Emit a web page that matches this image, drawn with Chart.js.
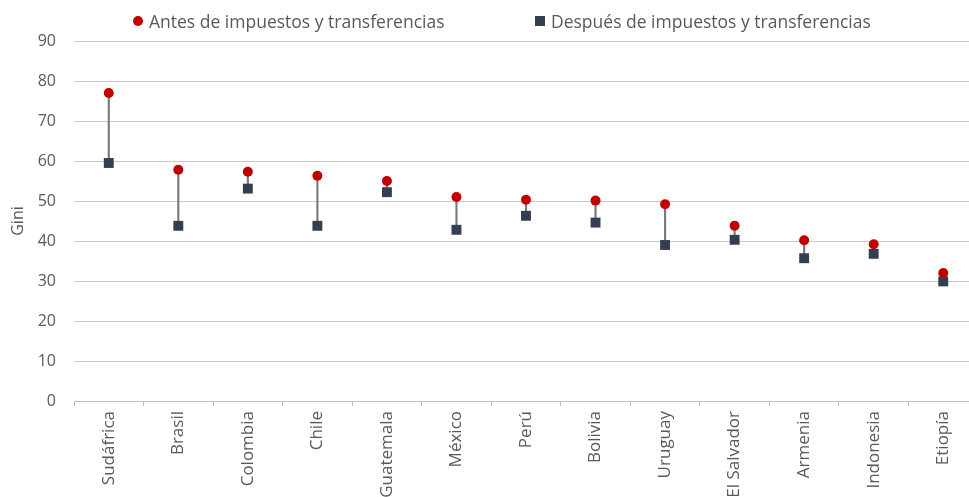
<!DOCTYPE html>
<html><head><meta charset="utf-8">
<script src="https://cdn.jsdelivr.net/npm/chart.js@4/dist/chart.umd.min.js"></script>
<style>
html,body{margin:0;padding:0;overflow:hidden;background:#fff;width:969px;height:497px;}
#wrap{position:absolute;left:0;top:0;width:985px;height:520px;}
#legend{position:absolute;top:0;left:0;width:969px;height:40px;font-family:'Open Sans';font-size:17.5px;color:#595959;}
.item{position:absolute;display:flex;align-items:center;white-space:nowrap;height:24px;}
.mk{display:inline-block;margin-right:6px;}
</style></head>
<body>
<div id="wrap"><canvas id="c" width="985" height="520"></canvas></div>
<div id="legend"></div>
<script>
const countries = ["Sudáfrica","Brasil","Colombia","Chile","Guatemala","México","Perú","Bolivia","Uruguay","El Salvador","Armenia","Indonesia","Etiopía"];
const antes = [77.0,57.8,57.3,56.3,55.0,51.0,50.3,50.1,49.2,43.8,40.2,39.2,32.0];
const despues = [59.5,43.8,53.1,43.8,52.2,42.8,46.3,44.6,39.0,40.3,35.7,36.8,29.9];
const seriesNames = ["Antes de impuestos y transferencias","Después de impuestos y transferencias"];
const yTicks = {min:0, max:90, step:10};

const connectors = countries.map((c,i)=>[despues[i], antes[i]]);
const FONT = "'Open Sans'";
const txt = '#595959';

const chart = new Chart(document.getElementById('c'), {
  data: {
    labels: countries,
    datasets: [
      {type:'line', label:seriesNames[0], data:antes, showLine:false, pointStyle:'circle', pointRadius:5, pointHoverRadius:5, pointBackgroundColor:'#C00000', pointBorderWidth:0, backgroundColor:'#C00000', borderColor:'#C00000', order:1},
      {type:'line', label:seriesNames[1], data:despues, showLine:false, pointStyle:'rect', pointRadius:7, pointHoverRadius:7, pointBackgroundColor:'#333F50', pointBorderWidth:0, backgroundColor:'#333F50', borderColor:'#333F50', order:2},
      {type:'bar', label:'conn', data:connectors, backgroundColor:'#7a7a7a', barThickness:1.5, order:3}
    ]
  },
  options: {
    responsive:false, animation:false, devicePixelRatio:1,
    layout:{padding:{top:41,right:0,left:0,bottom:0}},
    plugins:{legend:{display:false}, tooltip:{enabled:false}},
    events:[],
    scales:{
      x:{offset:true,
         grid:{offset:true, drawOnChartArea:false, drawTicks:true, tickLength:5, color:'#bfbfbf', lineWidth:1},
         border:{color:'#bfbfbf', width:1},
         ticks:{minRotation:90, maxRotation:90, autoSkip:false, color:txt, font:{family:FONT,size:17}, padding:5},
         afterFit(s){ s.height = 119; }
      },
      y:{min:yTicks.min, max:yTicks.max,
         ticks:{stepSize:yTicks.step, color:txt, font:{family:FONT,size:16}, padding:18},
         grid:{color:'#c8c8c8', lineWidth:1, drawTicks:false},
         border:{display:false},
         title:{display:true, text:'Gini', color:txt, font:{family:FONT,size:16}, padding:{top:9,bottom:0}},
         afterFit(s){ s.width = 74; }
      }
    }
  }
});

// HTML legend built from dataset settings
const lg = document.getElementById('legend');
const legendX = [133, 535];
[0,1].forEach(i=>{
  const ds = chart.data.datasets[i];
  const it = document.createElement('div');
  it.className='item';
  it.style.left = legendX[i]+'px';
  it.style.top = '9px';
  const mk = document.createElement('span');
  mk.className='mk';
  if (ds.pointStyle==='circle'){ mk.style.width='10px'; mk.style.height='10px'; mk.style.borderRadius='50%'; }
  else { mk.style.width='10px'; mk.style.height='10px'; }
  mk.style.background = ds.pointBackgroundColor;
  it.appendChild(mk);
  const t = document.createElement('span');
  t.textContent = ds.label;
  it.appendChild(t);
  lg.appendChild(it);
});
</script>
</body></html>
